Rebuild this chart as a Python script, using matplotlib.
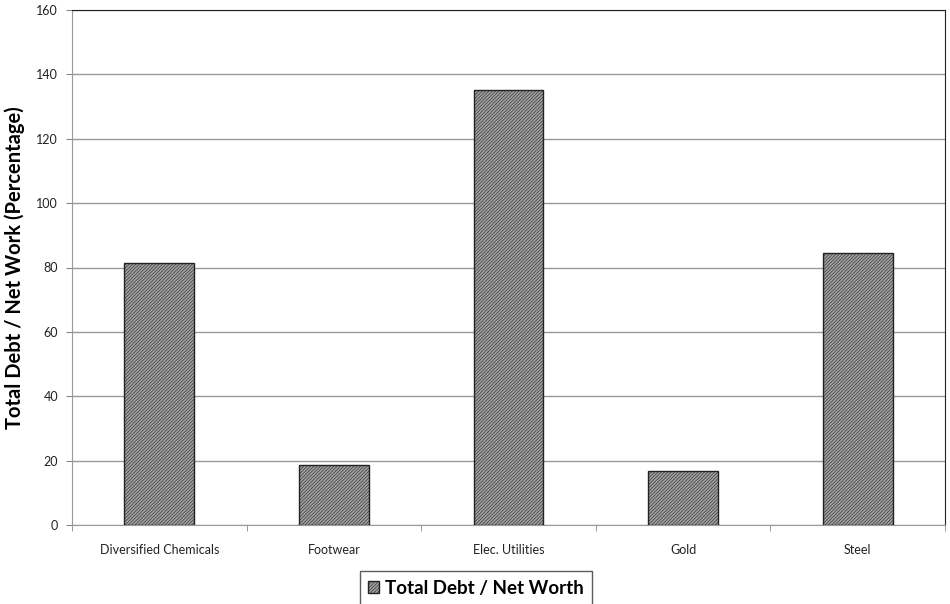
import matplotlib
matplotlib.use('Agg')
import matplotlib.pyplot as plt
import numpy as np

plt.rcParams['font.family'] = ['Lato', 'DejaVu Sans']
plt.rcParams['hatch.linewidth'] = 0.4
plt.rcParams['hatch.color'] = '#6e6e6e'

# данные
categories = ['Diversified Chemicals', 'Footwear', 'Elec. Utilities', 'Gold', 'Steel']
debt_ratio = [81.4, 18.6, 135.1, 16.8, 84.5]
yticks = [0, 20, 40, 60, 80, 100, 120, 140, 160]

fig = plt.figure(figsize=(9.5, 6.04), dpi=100)
ax = fig.add_axes([72 / 950, 1 - 525 / 604, 873 / 950, 515 / 604])

x = np.arange(len(categories))
ax.bar(x, debt_ratio, width=0.4, color='#a0a0a0', edgecolor='#222222',
       linewidth=1.0, hatch='//////////', label='Total Debt / Net Worth', zorder=3)

ax.set_xlim(-0.5, len(categories) - 0.5)
ax.set_ylim(0, 160)
ax.set_yticks(yticks)
ax.yaxis.grid(True, color='#999999', linewidth=1.0, zorder=0)
ax.set_xticks(x)
ax.set_xticklabels(categories, fontsize=9, color='#222222')
ax.set_xticks(np.arange(-0.5, len(categories)), minor=True)
ax.tick_params(axis='x', which='major', length=0, pad=14)
ax.tick_params(axis='x', which='minor', length=4, color='#888888', direction='out')
ax.tick_params(axis='y', labelsize=9, labelcolor='#222222', length=4, color='#888888', pad=6)

for side in ['left', 'bottom']:
    ax.spines[side].set_color('#999999')
for side in ['top', 'right']:
    ax.spines[side].set_color('#222222')

ax.set_ylabel('Total Debt / Net Work (Percentage)', fontsize=14.5, fontweight='bold', labelpad=8)

leg = fig.legend(loc='lower center', bbox_to_anchor=(476 / 950, -0.002), ncol=1,
                 fontsize=13.5, frameon=True, fancybox=False, handlelength=0.6,
                 handleheight=0.6, handletextpad=0.3, borderpad=0.45,
                 borderaxespad=0.0)
leg.get_frame().set_edgecolor('#333333')
leg.get_frame().set_linewidth(1.0)
for t in leg.get_texts():
    t.set_fontweight('bold')

plt.savefig('out.png', dpi=100)
plt.close()
